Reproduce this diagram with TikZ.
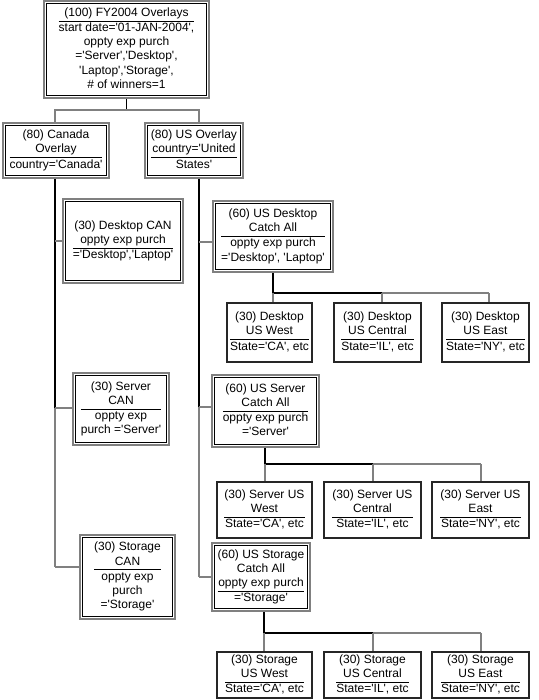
\documentclass[tikz,border=0pt]{standalone}
\usepackage{fontspec}
\setmainfont{Liberation Sans}[Ligatures=TeXOff]

\definecolor{linegray}{RGB}{128,128,128}
\setlength\arrayrulewidth{0.6pt}
\newcommand\bx[2]{\begin{tabular}{@{}c@{}}#1\\\hline #2\end{tabular}}

\begin{document}
\begin{tikzpicture}[x=0.75pt, y=-0.75pt,
	sz/.style 2 args={minimum width=#1pt*0.75, minimum height=#2pt*0.75},
	groupbox/.style={draw=linegray, line width=1.2pt, fill=white, inner sep=0pt, font=\fontsize{9}{10.7}\selectfont},
	leafbox/.style={draw=black!85, line width=0.8pt, fill=white, inner sep=0pt, font=\fontsize{9}{10.7}\selectfont},
	trunkline/.style={line width=0.95pt, black},
	branchline/.style={line width=0.9pt, linegray}]

\path [use as bounding box] (0,0) rectangle (539,700);

% GROUPS
\node[groupbox, sz={165}{97}] (top) at (126.5,49.5) {\bx{(100) FY2004 Overlays}{start date='01-JAN-2004',\\ oppty exp purch\\ ='Server','Desktop',\\ 'Laptop','Storage',\\ \# of winners=1}};
\node[groupbox, sz={106}{55}] (can) at (56,150.5) {\bx{(80) Canada\\ Overlay}{country='Canada'}};
\node[groupbox, sz={98}{55}] (us) at (194,150.5) {\bx{(80) US Overlay\\ country='United}{States'}};
\node[groupbox, sz={120}{84}] (dcan) at (123,241) {\bx{(30) Desktop CAN\\ oppty exp purch}{='Desktop','Laptop'}};
\node[groupbox, sz={96}{72}] (scan) at (121,409) {\bx{(30) Server\\ CAN}{oppty exp\\ purch ='Server'}};
\node[groupbox, sz={95}{84}] (stcan) at (127.5,577) {\bx{(30) Storage\\ CAN}{oppty exp\\ purch\\ ='Storage'}};
\node[groupbox, sz={120}{71}] (usd) at (273,236.5) {\bx{(60) US Desktop\\ Catch All}{oppty exp purch\\ ='Desktop', 'Laptop'}};
\node[groupbox, sz={107}{72}] (uss) at (265.5,411) {\bx{(60) US Server\\ Catch All}{oppty exp purch\\ ='Server'}};
\node[groupbox, sz={98}{68}] (usst) at (261,577) {\bx{(60) US Storage\\ Catch All\\ oppty exp purch}{='Storage'}};

\foreach \n in {top,can,us,dcan,scan,stcan,usd,uss,usst}
	\draw [line width=0.75pt] ([shift={(2.4pt,2.4pt)}]\n.south west) rectangle ([shift={(-2.4pt,-2.4pt)}]\n.north east);

% LEAVES
\node[leafbox, sz={85}{59}] (usdw) at (269.5,332.5) {\bx{(30) Desktop\\ US West}{State='CA', etc}};
\node[leafbox, sz={87}{59}] (usdc) at (377.5,332.5) {\bx{(30) Desktop\\ US Central}{State='IL', etc}};
\node[leafbox, sz={87}{59}] (usde) at (485.5,332.5) {\bx{(30) Desktop\\ US East}{State='NY', etc}};
\node[leafbox, sz={95}{56}] (ussw) at (264.5,510) {\bx{(30) Server US\\ West}{State='CA', etc}};
\node[leafbox, sz={97}{56}] (ussc) at (372.5,510) {\bx{(30) Server US\\ Central}{State='IL', etc}};
\node[leafbox, sz={97}{56}] (usse) at (480.5,510) {\bx{(30) Server US\\ East}{State='NY', etc}};
\node[leafbox, sz={95}{46}] (usstw) at (264.5,675) {\bx{(30) Storage\\ US West}{State='CA', etc}};
\node[leafbox, sz={97}{46}] (usstc) at (372.5,675) {\bx{(30) Storage\\ US Central}{State='IL', etc}};
\node[leafbox, sz={97}{46}] (usste) at (480.5,675) {\bx{(30) Storage\\ US East}{State='NY', etc}};

% JUNCTIONS
\coordinate (j0) at (127,110);
\coordinate (jl) at (55,110);
\coordinate (jr) at (199,110);
\coordinate (l1) at (55,241);
\coordinate (l2) at (55,408);
\coordinate (l3) at (55,567);
\coordinate (r1) at (199,242);
\coordinate (r2) at (199,407);
\coordinate (r3) at (199,577);
\coordinate (d0) at (273,293);
\coordinate (d1) at (382,293);
\coordinate (d2) at (489,293);
\coordinate (s0) at (265,464);
\coordinate (s1) at (373,464);
\coordinate (s2) at (481,464);
\coordinate (t0) at (264,633);
\coordinate (t1) at (373,633);
\coordinate (t2) at (481,633);

% TOP LEVEL
\draw [trunkline] (top.south) -- (top.south |- j0);
\draw [branchline] (can.north -| jl) -- (jl) -- (jr) -- (us.north -| jr);

% CANADA
\draw [trunkline] (can.south -| l1) -- (l2);
\draw [branchline] (l2) -- (l3);
\draw [branchline] (l1) -- (dcan.west |- l1);
\draw [branchline] (l2) -- (scan.west |- l2);
\draw [branchline] (l3) -- (stcan.west |- l3);

% US
\draw [trunkline] (us.south -| r1) -- (r2);
\draw [branchline] (r2) -- (r3);
\draw [branchline] (r1) -- (usd.west |- r1);
\draw [branchline] (r2) -- (uss.west |- r2);
\draw [branchline] (r3) -- (usst.west |- r3);

% US DESKTOP
\draw [trunkline] (usd.south -| d0) -- (d0) -- (d1);
\draw [branchline] (d1) -- (d2);
\draw [branchline] (d0) -- (usdw.north -| d0);
\draw [branchline] (d1) -- (usdc.north -| d1);
\draw [branchline] (d2) -- (usde.north -| d2);

% US SERVER
\draw [trunkline] (uss.south -| s0) -- (s0) -- (s1);
\draw [branchline] (s1) -- (s2);
\draw [branchline] (s0) -- (ussw.north -| s0);
\draw [branchline] (s1) -- (ussc.north -| s1);
\draw [branchline] (s2) -- (usse.north -| s2);

% US STORAGE
\draw [trunkline] (usst.south -| t0) -- (t0) -- (t1);
\draw [branchline] (t1) -- (t2);
\draw [branchline] (t0) -- (usstw.north -| t0);
\draw [branchline] (t1) -- (usstc.north -| t1);
\draw [branchline] (t2) -- (usste.north -| t2);

\end{tikzpicture}
\end{document}
